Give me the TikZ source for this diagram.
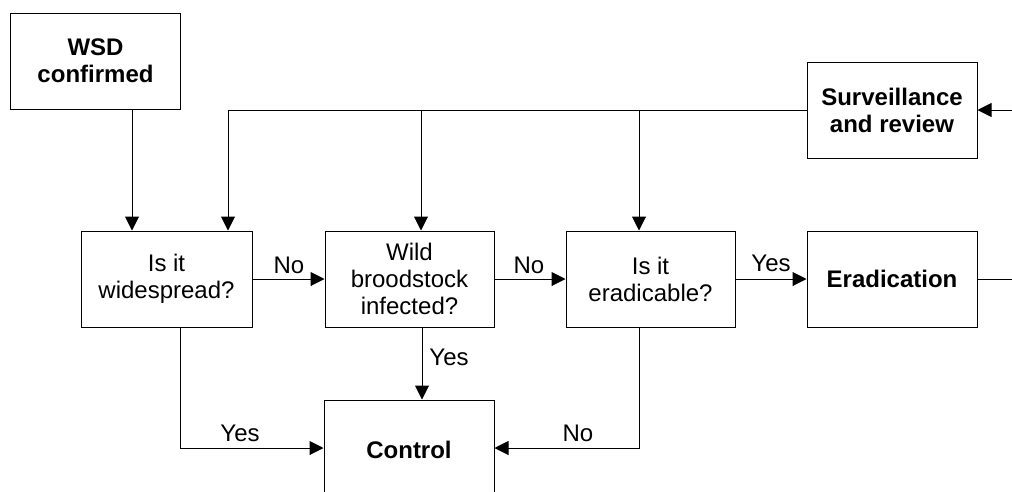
\documentclass[tikz,border=0pt]{standalone}
\usepackage{fontspec}
\setmainfont{Liberation Sans}
\usetikzlibrary{arrows.meta}
\begin{document}
\begin{tikzpicture}[x=1pt,y=-1pt,
  box/.style={draw=black,line width=1pt,minimum width=170pt,minimum height=96pt,inner sep=0pt,align=center,
    font=\fontsize{24pt}{27pt}\selectfont},
  bbox/.style={box,font=\fontsize{24pt}{27pt}\selectfont\bfseries},
  conn/.style={line width=1pt},
  arr/.style={conn,-{Triangle[width=14pt,length=14pt]}},
  lbl/.style={font=\fontsize{24pt}{27pt}\selectfont,inner sep=0pt}]
\useasboundingbox (0,0) rectangle (1012,491);
\clip (0,0) rectangle (1012,491);
\node[bbox] (wsd) at (95.5,61) {WSD\\confirmed};
\node[box,minimum width=171pt] (b1) at (166.5,279) {Is it\\widespread?};
\node[box,minimum width=169pt] (b2) at (409.5,279) {Wild\\broodstock\\infected?};
\node[box,minimum width=169pt] (b3) at (650.5,279) {Is it\\eradicable?};
\node[bbox] (erad) at (892,279) {Eradication};
\node[bbox] (surv) at (892,110) {Surveillance\\and review};
\node[bbox,minimum height=100pt] (ctrl) at (409,450) {Control};
\coordinate (c1) at (132,0);
\coordinate (t1) at (228,110);
\coordinate (t2) at (421,110);
\coordinate (t3) at (639,110);
\coordinate (rin) at (1012,110);
\coordinate (rout) at (1012,279);
\coordinate (k1) at (180,448);
\coordinate (k2) at (422,0);
\coordinate (k3) at (639,448);
% inputs to box 1
\draw[arr] (wsd.south -| c1) -- (b1.north -| c1);
\draw[arr] (surv.west) -- (t1) -- (b1.north -| t1);
\draw[arr] (t2) -- (b2.north -| t2);
\draw[arr] (t3) -- (b3.north -| t3);
\draw[arr] (rin) -- (surv.east);
\draw[conn] (erad.east) -- (rout);
% horizontal flow
\draw[arr] (b1.east) -- (b2.west);
\node[lbl] (n1) at (289,265) {No};
\draw[arr] (b2.east) -- (b3.west);
\node[lbl] (n2) at (529,265) {No};
\draw[arr] (b3.east) -- (erad.west);
\node[lbl] (y3) at (771,263) {Yes};
% to control
\draw[arr] (b1.south -| k1) -- (k1) -- (ctrl.west |- k1);
\node[lbl] (y1) at (240,433) {Yes};
\draw[arr] (b2.south -| k2) -- (ctrl.north -| k2);
\node[lbl] (y2) at (449,357) {Yes};
\draw[arr] (b3.south -| k3) -- (k3) -- (ctrl.east |- k3);
\node[lbl] (n3) at (578,433) {No};
\end{tikzpicture}
\end{document}
